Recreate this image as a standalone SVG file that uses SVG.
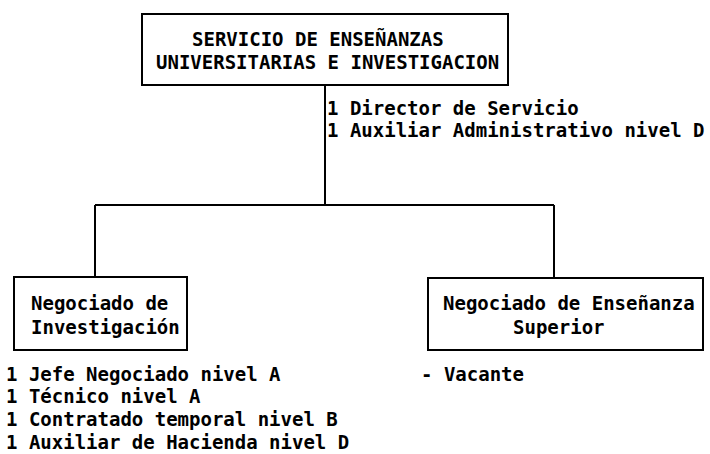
<svg xmlns="http://www.w3.org/2000/svg" width="710" height="454" viewBox="0 0 710 454">
<style>
.box{fill:#fff;stroke:#000;stroke-width:2}
.ln{fill:none;stroke:#000;stroke-width:2}
text{font-family:"DejaVu Sans Mono","Liberation Mono",monospace;font-weight:bold;font-size:19px;fill:#000}
</style>
<rect width="710" height="454" fill="#fff"/>
<g id="connectors">
<path class="ln" d="M325 85 V205 M95 205 H554 M95 205 V277 M554 205 V278"/>
</g>
<g id="servicio">
<rect class="box" x="142" y="14" width="366" height="71"/>
<text x="192" y="46">SERVICIO DE ENSEÑANZAS</text>
<text x="156" y="69">UNIVERSITARIAS E INVESTIGACION</text>
</g>
<g id="servicio-staff">
<text x="327" y="115">1 Director de Servicio</text>
<text x="327" y="137">1 Auxiliar Administrativo nivel D</text>
</g>
<g id="neg-investigacion">
<rect class="box" x="14" y="277" width="173" height="73"/>
<text x="31" y="310">Negociado de</text>
<text x="31" y="334">Investigación</text>
</g>
<g id="neg-investigacion-staff">
<text x="6" y="381">1 Jefe Negociado nivel A</text>
<text x="6" y="403">1 Técnico nivel A</text>
<text x="6" y="426">1 Contratado temporal nivel B</text>
<text x="6" y="449">1 Auxiliar de Hacienda nivel D</text>
</g>
<g id="neg-ensenanza">
<rect class="box" x="428" y="278" width="275" height="72"/>
<text x="443" y="310">Negociado de Enseñanza</text>
<text x="513" y="334">Superior</text>
</g>
<g id="neg-ensenanza-staff">
<text x="421" y="381">- Vacante</text>
</g>
</svg>
